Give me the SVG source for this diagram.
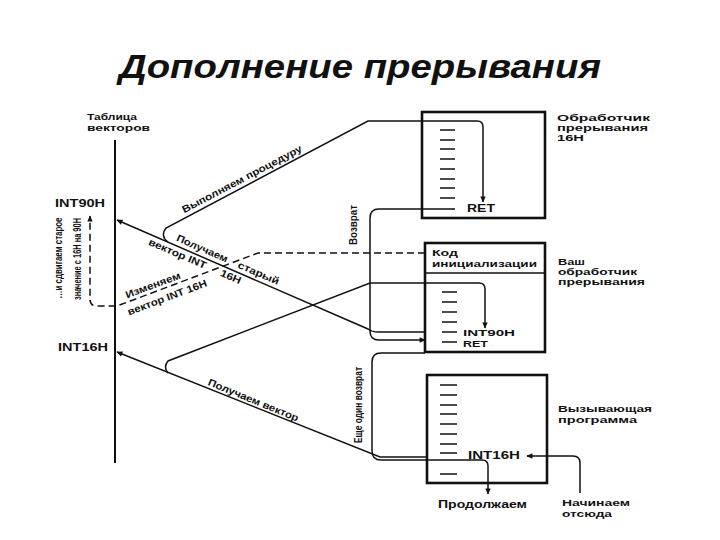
<svg xmlns="http://www.w3.org/2000/svg" width="720" height="540" viewBox="0 0 720 540">
<style>
text{font-family:"Liberation Sans",Arial,sans-serif;fill:#111}
.lb{font-size:10px;font-weight:bold}
.sl{font-size:9px;font-weight:bold}
.vt{font-size:10px;font-weight:bold}
.box{fill:none;stroke:#111;stroke-width:2.6}
.ln{fill:none;stroke:#111;stroke-width:1.5}
.tk{stroke:#111;stroke-width:1.5}
.dash{fill:none;stroke:#111;stroke-width:1.5;stroke-dasharray:7 4}
</style>
<defs>
<marker id="ah" viewBox="0 0 10 10" refX="9" refY="5" markerWidth="8" markerHeight="6" markerUnits="userSpaceOnUse" orient="auto"><path d="M0,0.5 L10,5 L0,9.5 z" fill="#111"/></marker>
</defs>
<rect width="720" height="540" fill="#fff"/>
<text x="360" y="78" text-anchor="middle" font-size="34" font-weight="bold" font-style="italic" textLength="482" lengthAdjust="spacingAndGlyphs">Дополнение прерывания</text>

<g id="vector-table">
<line x1="115" y1="140" x2="115" y2="463" stroke="#111" stroke-width="2"/>
<text class="sl" x="87" y="120" textLength="50" lengthAdjust="spacingAndGlyphs">Таблица</text>
<text class="sl" x="87" y="131" textLength="63" lengthAdjust="spacingAndGlyphs">векторов</text>
<text class="lb" x="55" y="207" textLength="50" lengthAdjust="spacingAndGlyphs">INT90H</text>
<text class="lb" x="58" y="351" textLength="50" lengthAdjust="spacingAndGlyphs">INT16H</text>
</g>

<g id="handler16">
<rect class="box" x="422" y="112" width="123" height="106"/>
<g class="tk"><line x1="440" y1="130" x2="455" y2="130"/><line x1="440" y1="140" x2="455" y2="140"/><line x1="440" y1="149" x2="455" y2="149"/><line x1="440" y1="159" x2="455" y2="159"/><line x1="440" y1="169" x2="455" y2="169"/><line x1="440" y1="179" x2="455" y2="179"/><line x1="440" y1="188" x2="455" y2="188"/><line x1="440" y1="198" x2="455" y2="198"/></g>
<text class="lb" x="467" y="212" textLength="28" lengthAdjust="spacingAndGlyphs">RET</text>
<text class="sl" x="557" y="121" textLength="93" lengthAdjust="spacingAndGlyphs">Обработчик</text>
<text class="sl" x="557" y="131" textLength="91" lengthAdjust="spacingAndGlyphs">прерывания</text>
<text class="sl" x="557" y="141" textLength="27" lengthAdjust="spacingAndGlyphs">16H</text>
</g>

<g id="your-handler">
<rect class="box" x="425" y="243" width="120" height="109"/>
<line x1="425" y1="273" x2="545" y2="273" stroke="#111" stroke-width="1.6"/>
<text class="sl" x="432" y="256" textLength="26" lengthAdjust="spacingAndGlyphs">Код</text>
<text class="sl" x="432" y="267" textLength="105" lengthAdjust="spacingAndGlyphs">инициализации</text>
<g class="tk"><line x1="442" y1="292" x2="457" y2="292"/><line x1="442" y1="302" x2="457" y2="302"/><line x1="442" y1="312" x2="457" y2="312"/><line x1="442" y1="322" x2="457" y2="322"/><line x1="442" y1="332" x2="457" y2="332"/><line x1="442" y1="342" x2="457" y2="342"/></g>
<text class="sl" x="463" y="336" textLength="52" lengthAdjust="spacingAndGlyphs">INT90H</text>
<text class="sl" x="463" y="347" textLength="25" lengthAdjust="spacingAndGlyphs">RET</text>
<text class="sl" x="558" y="265" textLength="27" lengthAdjust="spacingAndGlyphs">Ваш</text>
<text class="sl" x="558" y="275" textLength="79" lengthAdjust="spacingAndGlyphs">обработчик</text>
<text class="sl" x="558" y="285" textLength="87" lengthAdjust="spacingAndGlyphs">прерывания</text>
</g>

<g id="caller">
<rect class="box" x="427" y="375" width="120" height="108"/>
<g class="tk"><line x1="440" y1="385" x2="457" y2="385"/><line x1="440" y1="395" x2="457" y2="395"/><line x1="440" y1="405" x2="457" y2="405"/><line x1="440" y1="414" x2="457" y2="414"/><line x1="440" y1="424" x2="457" y2="424"/><line x1="440" y1="434" x2="457" y2="434"/><line x1="440" y1="444" x2="457" y2="444"/><line x1="440" y1="453" x2="457" y2="453"/><line x1="440" y1="474" x2="457" y2="474"/></g>
<text class="lb" x="468" y="459" textLength="52" lengthAdjust="spacingAndGlyphs">INT16H</text>
<text class="sl" x="558" y="412" textLength="94" lengthAdjust="spacingAndGlyphs">Вызывающая</text>
<text class="sl" x="558" y="423" textLength="79" lengthAdjust="spacingAndGlyphs">программа</text>
<text class="lb" x="438" y="508" textLength="89" lengthAdjust="spacingAndGlyphs">Продолжаем</text>
<text class="sl" x="562" y="506" textLength="68" lengthAdjust="spacingAndGlyphs">Начинаем</text>
<text class="sl" x="562" y="517" textLength="50" lengthAdjust="spacingAndGlyphs">отсюда</text>
</g>

<g id="connectors">
<path class="ln" d="M168,242 Q160,236 166,228 L368,121 H477 Q483,121 483,127 V202" marker-end="url(#ah)"/>
<path class="ln" d="M425,332 H378 Q372,332 368,329 L117,220" marker-end="url(#ah)"/>
<path class="ln" d="M455,209 H379 Q370,209 370,218 V331 Q370,340 379,340 H425" marker-end="url(#ah)"/>
<path class="ln" d="M168,373 Q163,367 168,361 L370,283 H479 Q485,283 485,289 V328" marker-end="url(#ah)"/>
<path class="ln" d="M427,457 H380 L117,352" marker-end="url(#ah)"/>
<path class="ln" d="M425,353 H381 Q372,353 372,362 V451 Q372,460 381,460 H482 Q488,460 488,466 V494" marker-end="url(#ah)"/>
<path class="ln" d="M580,493 V463 Q580,456 573,456 H527" marker-end="url(#ah)"/>
<path class="dash" d="M425,253 H258 L117,306 H97 Q90,306 90,299 V216" marker-end="url(#ah)"/>
</g>

<g id="connector-labels">
<text class="lb" transform="translate(184.3,213.3) rotate(-27.8)" textLength="134" lengthAdjust="spacingAndGlyphs">Выполняем процедуру</text>
<text class="lb" transform="translate(175.7,240.6) rotate(23.5)" textLength="55" lengthAdjust="spacingAndGlyphs">Получаем</text>
<text class="lb" transform="translate(237.1,267.4) rotate(23.5)" textLength="44" lengthAdjust="spacingAndGlyphs">старый</text>
<text class="lb" transform="translate(147.8,244.4) rotate(23.5)" textLength="62" lengthAdjust="spacingAndGlyphs">вектор INT</text>
<text class="lb" transform="translate(219.4,275.5) rotate(23.5)" textLength="22" lengthAdjust="spacingAndGlyphs">16H</text>
<text class="lb" transform="translate(127,298.5) rotate(-20.6)" textLength="58" lengthAdjust="spacingAndGlyphs">Изменяем</text>
<text class="lb" transform="translate(129.1,315.4) rotate(-20.6)" textLength="84" lengthAdjust="spacingAndGlyphs">вектор INT 16H</text>
<text class="lb" transform="translate(207.3,384.8) rotate(22.35)" textLength="97" lengthAdjust="spacingAndGlyphs">Получаем вектор</text>
<text class="vt" transform="translate(357,225) rotate(-90)" text-anchor="middle" textLength="40" lengthAdjust="spacingAndGlyphs">Возврат</text>
<text class="vt" transform="translate(362,405) rotate(-90)" text-anchor="middle" textLength="76" lengthAdjust="spacingAndGlyphs">Еще один возврат</text>
<text class="vt" transform="translate(62,258) rotate(-90)" text-anchor="middle" textLength="81" lengthAdjust="spacingAndGlyphs">…и сдвигаем старое</text>
<text class="vt" transform="translate(81,259) rotate(-90)" text-anchor="middle" textLength="82" lengthAdjust="spacingAndGlyphs">значение с 16H на 90H</text>
</g>
</svg>
